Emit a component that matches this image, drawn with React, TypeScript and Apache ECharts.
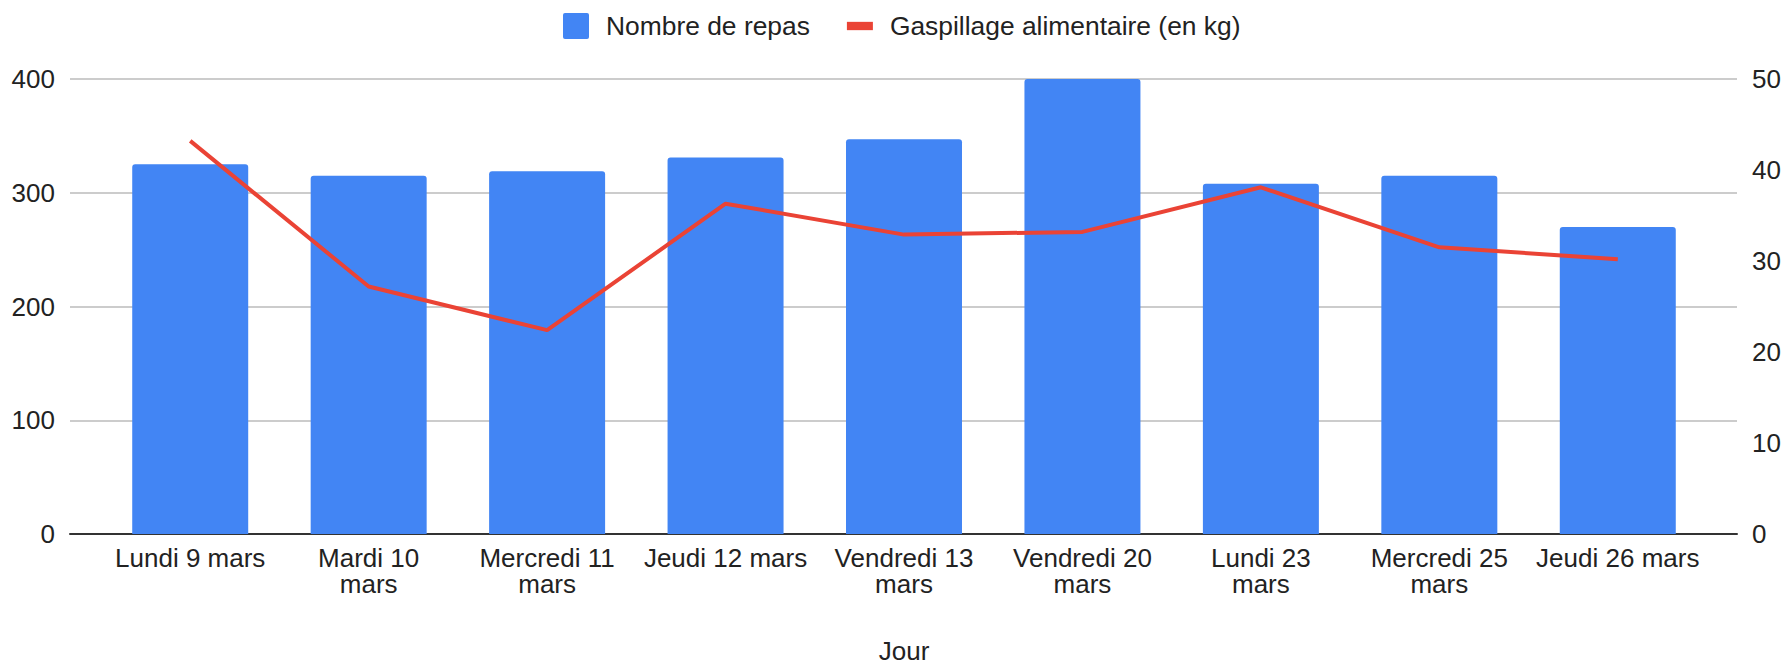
import React, { useEffect, useRef } from "react";
import * as echarts from "echarts";

const categories: string[] = [
  "Lundi 9 mars",
  "Mardi 10\nmars",
  "Mercredi 11\nmars",
  "Jeudi 12 mars",
  "Vendredi 13\nmars",
  "Vendredi 20\nmars",
  "Lundi 23\nmars",
  "Mercredi 25\nmars",
  "Jeudi 26 mars",
];
const repas: number[] = [325, 315, 319, 331, 347, 400, 308, 315, 270];
const gaspillage: number[] = [43.2, 27.2, 22.4, 36.3, 32.9, 33.2, 38.1, 31.5, 30.2];
const leftTicks = { min: 0, max: 400, interval: 100 };
const rightTicks = { min: 0, max: 50, interval: 10 };

const FONT = "'Liberation Sans', Arial, sans-serif";
const TEXT = "#222222";

export default function App() {
  const ref = useRef<HTMLDivElement>(null);
  useEffect(() => {
    if (!ref.current) return;
    const chart = echarts.init(ref.current, undefined, { renderer: "svg" });
    chart.setOption({
      animation: false,
      textStyle: { fontFamily: FONT },
      legend: {
        top: 13,
        left: 563,
        padding: 0,
        itemWidth: 26,
        itemHeight: 26,
        itemGap: 37,
        textStyle: { fontSize: 26.4, color: TEXT, fontFamily: FONT, padding: [0, 0, 0, 12] },
        data: [
          {
            name: "Nombre de repas",
            icon: "path://M2 0H24Q26 0 26 2V24Q26 26 24 26H2Q0 26 0 24V2Q0 0 2 0Z",
          },
          { name: "Gaspillage alimentaire (en kg)", icon: "path://M0 0H25V8H0Z" },
        ],
      },
      grid: [
        { left: 101, right: 77, top: 79, bottom: 127, outerBoundsMode: "none", containLabel: false },
        { left: 70, right: 47, top: 79, bottom: 127, outerBoundsMode: "none", containLabel: false },
      ],
      xAxis: [
        {
          type: "category",
          gridIndex: 0,
          data: categories,
          axisLine: { show: false },
          axisTick: { show: false },
          axisLabel: {
            interval: 0,
            margin: 11,
            fontSize: 26,
            lineHeight: 26,
            color: TEXT,
            fontFamily: FONT,
          },
          name: "Jour",
          nameLocation: "middle",
          nameGap: 107,
          nameTextStyle: { fontSize: 26, lineHeight: 20, color: TEXT, fontFamily: FONT },
        },
        {
          type: "value",
          gridIndex: 1,
          min: 0,
          max: 1,
          axisLine: { show: true, onZero: false, lineStyle: { color: "#333333", width: 2 } },
          axisTick: { show: false },
          axisLabel: { show: false },
          splitLine: { show: false },
        },
      ],
      yAxis: [
        { type: "value", gridIndex: 0, ...leftTicks, show: false },
        { type: "value", gridIndex: 0, ...rightTicks, show: false },
        {
          type: "value",
          gridIndex: 1,
          position: "left",
          ...leftTicks,
          axisLine: { show: false },
          axisTick: { show: false },
          axisLabel: { margin: 15, fontSize: 26, color: TEXT, fontFamily: FONT },
          splitLine: { show: true, lineStyle: { color: "#cccccc", width: 2 } },
        },
        {
          type: "value",
          gridIndex: 1,
          position: "right",
          ...rightTicks,
          axisLine: { show: false },
          axisTick: { show: false },
          axisLabel: { margin: 15, fontSize: 26, color: TEXT, fontFamily: FONT },
          splitLine: { show: false },
        },
      ],
      series: [
        {
          name: "Nombre de repas",
          type: "bar",
          xAxisIndex: 0,
          yAxisIndex: 0,
          data: repas,
          barCategoryGap: "35%",
          itemStyle: { color: "#4285F4", borderRadius: [3, 3, 0, 0] },
          z: 2,
        },
        {
          name: "Gaspillage alimentaire (en kg)",
          type: "line",
          xAxisIndex: 0,
          yAxisIndex: 1,
          data: gaspillage,
          symbol: "none",
          lineStyle: { color: "#EA4335", width: 4 },
          itemStyle: { color: "#EA4335" },
          z: 3,
        },
      ],
    });
    return () => chart.dispose();
  }, []);
  return (
    <div
      ref={ref}
      style={{ position: "fixed", left: 0, top: 0, width: 1784, height: 661, background: "#fff" }}
    />
  );
}
